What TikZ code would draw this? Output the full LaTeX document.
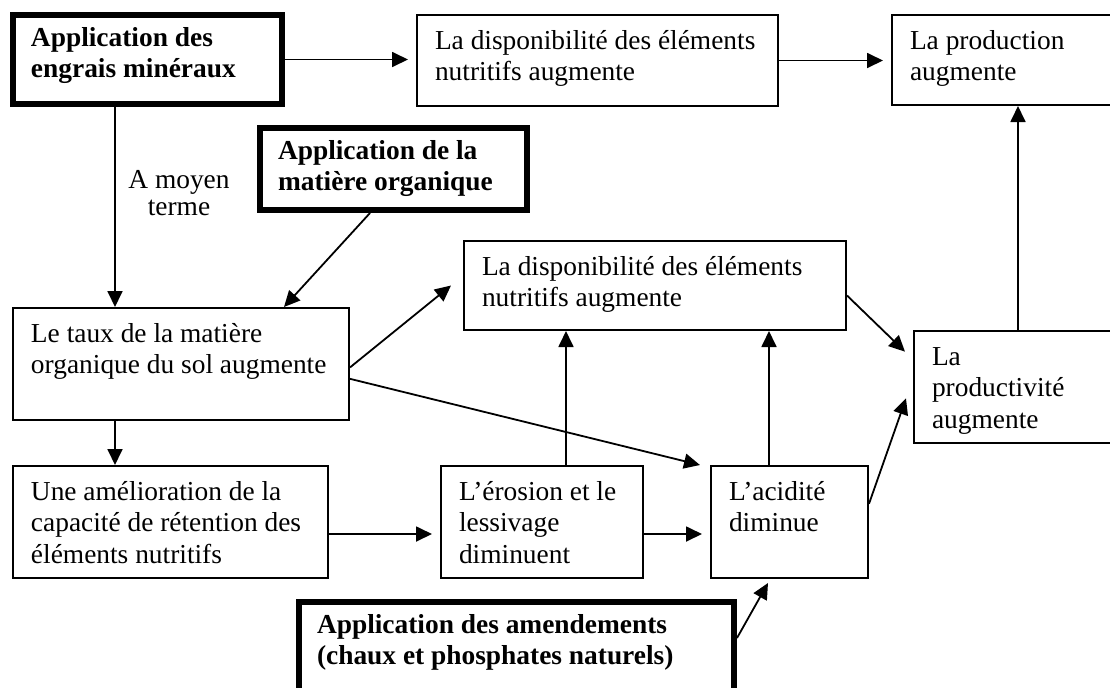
\documentclass[tikz,border=0pt]{standalone}
\usepackage{fontspec}
\setmainfont{Liberation Serif}
\usepackage{tikz}
\usetikzlibrary{arrows.meta,
calc
}
\tikzset{>={Triangle[length=8pt,width=7.5pt]}}
\newcommand{\celltext}[3]{\parbox[t][#2][t]{#1}{\begin{tabular}[t]{@{}l@{}}#3\end{tabular}}}
\tikzset{
  box/.style={draw, line width=1pt, anchor=north west, inner xsep=9pt, inner ysep=6pt,
    font=\fontsize{13.7pt}{15.8pt}\selectfont},
  keybox/.style={box, line width=3pt, inner ysep=4.5pt,
    font=\fontsize{13.7pt}{15.8pt}\selectfont\bfseries},
  shortend/.style={shorten >=4pt}
}

\begin{document}
\begin{tikzpicture}[x=0.5pt, y=-0.5pt, line width=0.9pt]
    \useasboundingbox (0,0) rectangle (1110,687);

    % boxes
    \node[keybox] (engrais) at (10,12) {\celltext{116.5pt}{35.5pt}{Application des\\engrais minéraux}};
    \node[box] (dispo) at (416,14) {\celltext{162.5pt}{33.5pt}{La disponibilité des éléments\\nutritifs augmente}};
    \node[box] (prod) at (891,14) {\celltext{106pt}{33pt}{La production\\augmente}};
    \node[keybox] (orga) at (257,125) {\celltext{115.5pt}{32pt}{Application de la\\matière organique}};
    \node[box] (taux) at (12,307) {\celltext{150pt}{44pt}{Le taux de la matière\\organique du sol augmente}};
    \node[box] (dispob) at (463,240) {\celltext{173pt}{32.5pt}{La disponibilité des éléments\\nutritifs augmente}};
    \node[box] (productivite) at (913,330) {\celltext{95pt}{44pt}{La\\productivité\\augmente}};
    \node[box] (amelio) at (12,465) {\celltext{139.5pt}{44pt}{Une amélioration de la\\capacité de rétention des\\éléments nutritifs}};
    \node[box] (erosion) at (440,465) {\celltext{83pt}{44pt}{L’érosion et le\\lessivage\\diminuent}};
    \node[box] (acidite) at (710,465) {\celltext{60.5pt}{44pt}{L’acidité\\diminue}};
    \node[keybox] (amend) at (296,599) {\celltext{199.5pt}{41pt}{Application des amendements\\(chaux et phosphates naturels)}};
    \node[align=center, font=\fontsize{13.7pt}{13.5pt}\selectfont] (moyen) at (179,193) {A moyen\\terme};

    % arrows
    \draw[->, shortend] (engrais.east) -- (engrais.east -| dispo.west);
    \draw[->, shortend] (dispo.east) -- (dispo.east -| prod.west);
    \coordinate (a1) at ($(engrais.south west)+(105,0)$);
    \draw[->] (a1) -- (a1 |- taux.north);
    \draw[->] ($(orga.south west)+(113,0)$) -- ($(taux.north west)+(272,0)$);
    \draw[->] (a1 |- taux.south) -- (a1 |- amelio.north);
    \draw[->] ($(taux.north east)!.53!(taux.south east)$) -- ([xshift=-6pt]dispob.west);
    \draw[->] ($(taux.north east)!.63!(taux.south east)$) -- ([xshift=-5pt]acidite.north west);
    \draw[->] ($(dispob.north east)!.61!(dispob.south east)$) -- ($(productivite.north west)!.19!(productivite.south west)+(-8,0)$);
    \draw[->] ($(acidite.north east)!.34!(acidite.south east)$) -- ($(productivite.north west)!.6!(productivite.south west)+(-7,0)$);
    \coordinate (g1) at ($(productivite.north west)+(105,0)$);
    \draw[->] (g1) -- (g1 |- prod.south);
    \draw[->, shortend] ($(amelio.east)+(0,12)$) -- ($(erosion.west)+(0,12)$);
    \draw[->, shortend] ($(erosion.east)+(0,12)$) -- ($(acidite.west)+(0,12)$);
    \coordinate (i1) at ($(erosion.north west)+(126,0)$);
    \draw[->] (i1) -- (i1 |- dispob.south);
    \coordinate (j1) at ($(acidite.north west)+(59,0)$);
    \draw[->] (j1) -- (j1 |- dispob.south);
    \draw[->] ($(amend.north east)+(0,39)$) -- ($(acidite.south west)+(58,4)$);
\end{tikzpicture}
\end{document}
